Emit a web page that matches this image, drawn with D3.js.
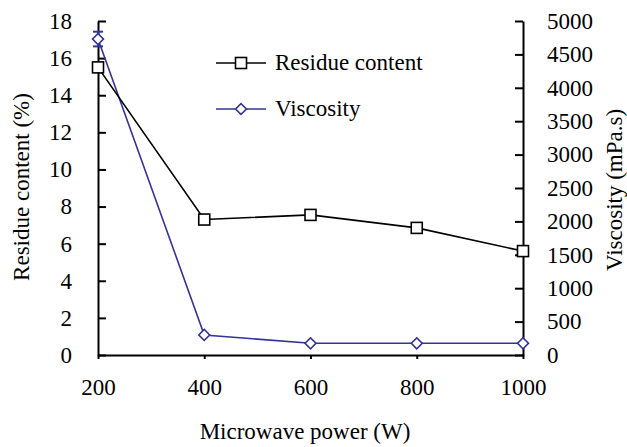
<!DOCTYPE html>
<html>
<head>
<meta charset="utf-8">
<script src="https://cdn.jsdelivr.net/npm/d3@7"></script>
<style>
  body { margin: 0; background: #fff; }
  svg { display: block; }
</style>
</head>
<body>
<script>
// data
const power = [200, 400, 600, 800, 1000];
const residue = [15.5, 7.3, 7.55, 6.85, 5.6];
const residueErr = [0, 0, 0.25, 0, 0];
const viscosity = [4730, 300, 175, 175, 175];
const viscosityErr = [110, 0, 0, 0, 0];
const leftTicks = [0, 2, 4, 6, 8, 10, 12, 14, 16, 18];
const rightTicks = [0, 500, 1000, 1500, 2000, 2500, 3000, 3500, 4000, 4500, 5000];
const xTicks = [200, 400, 600, 800, 1000];

const width = 627, height = 447;
const margin = {top: 21, right: 104, bottom: 92, left: 98};
const font = "'Liberation Serif', 'Times New Roman', serif";
const fs = "23px";
const blue = "#333399";

const svg = d3.select("body").append("svg")
  .attr("width", width)
  .attr("height", height)
  .style("font-family", font);

const x = d3.scaleLinear().domain([200, 1000]).range([margin.left, width - margin.right]);
const yL = d3.scaleLinear().domain([0, 18]).range([height - margin.bottom, margin.top]);
const yR = d3.scaleLinear().domain([0, 5000]).range([height - margin.bottom, margin.top]);

// axes
const gx = svg.append("g")
  .attr("transform", `translate(0,${height - margin.bottom})`)
  .call(d3.axisBottom(x).tickValues(xTicks).tickFormat(d3.format("d"))
    .tickSize(4).tickPadding(20).tickSizeOuter(0));

const gl = svg.append("g")
  .attr("transform", `translate(${margin.left},0)`)
  .call(d3.axisLeft(yL).tickValues(leftTicks).tickFormat(d3.format("d"))
    .tickSize(-8).tickPadding(26).tickSizeOuter(0));

const gr = svg.append("g")
  .attr("transform", `translate(${width - margin.right},0)`)
  .call(d3.axisRight(yR).tickValues(rightTicks).tickFormat(d3.format("d"))
    .tickSize(-8).tickPadding(24).tickSizeOuter(0));

[gx, gl, gr].forEach(g => {
  g.selectAll("path, line").attr("stroke", "#000").attr("stroke-width", 2);
  g.selectAll("text").attr("fill", "#000").style("font-size", fs).style("font-family", font);
});

// axis titles
svg.append("text")
  .attr("x", 305).attr("y", 439)
  .attr("text-anchor", "middle")
  .style("font-size", fs)
  .text("Microwave power (W)");

svg.append("text")
  .attr("transform", `translate(29,187) rotate(-90)`)
  .attr("text-anchor", "middle")
  .style("font-size", fs)
  .text("Residue content (%)");

svg.append("text")
  .attr("transform", `translate(622,190) rotate(-90)`)
  .attr("text-anchor", "middle")
  .style("font-size", fs)
  .text("Viscosity (mPa.s)");

// error bars
function errorBars(vals, errs, y, color) {
  const d = power.map((p, i) => ({p, v: vals[i], e: errs[i]})).filter(d => d.e > 0);
  const g = svg.append("g").attr("stroke", color).attr("stroke-width", 2);
  g.selectAll(".ev").data(d).join("line")
    .attr("x1", d => x(d.p)).attr("x2", d => x(d.p))
    .attr("y1", d => y(d.v - d.e)).attr("y2", d => y(d.v + d.e));
  g.selectAll(".eh").data(d.flatMap(d => [d.v - d.e, d.v + d.e].map(v => ({p: d.p, v})))).join("line")
    .attr("x1", d => x(d.p) - 5).attr("x2", d => x(d.p) + 5)
    .attr("y1", d => y(d.v)).attr("y2", d => y(d.v));
}
errorBars(residue, residueErr, yL, "#000");
errorBars(viscosity, viscosityErr, yR, blue);

// lines
const lineR = d3.line().x((d, i) => x(power[i])).y(d => yL(d));
const lineV = d3.line().x((d, i) => x(power[i])).y(d => yR(d));

svg.append("path").datum(viscosity)
  .attr("d", lineV).attr("fill", "none").attr("stroke", blue).attr("stroke-width", 1.6);
svg.append("path").datum(residue)
  .attr("d", lineR).attr("fill", "none").attr("stroke", "#000").attr("stroke-width", 1.6);

// markers
const sq = 11;
const diamondPath = d3.symbol().type(d3.symbolSquare).size(60);
svg.selectAll(".sq").data(residue).join("rect")
  .attr("x", (d, i) => x(power[i]) - sq / 2)
  .attr("y", d => yL(d) - sq / 2)
  .attr("width", sq).attr("height", sq)
  .attr("fill", "#fff").attr("stroke", "#000").attr("stroke-width", 1.6);

svg.selectAll(".dm").data(viscosity).join("path")
  .attr("transform", (d, i) => `translate(${x(power[i])},${yR(d)}) rotate(45)`)
  .attr("d", diamondPath)
  .attr("fill", "#fff").attr("stroke", blue).attr("stroke-width", 1.6);

// legend
const legend = [
  {label: "Residue content", color: "#000", marker: "square", y: 63},
  {label: "Viscosity", color: blue, marker: "diamond", y: 109}
];
const lg = svg.append("g");
legend.forEach(l => {
  lg.append("line").attr("x1", 216).attr("x2", 266).attr("y1", l.y).attr("y2", l.y)
    .attr("stroke", l.color).attr("stroke-width", 1.6);
  if (l.marker === "square") {
    lg.append("rect").attr("x", 241 - sq / 2).attr("y", l.y - sq / 2)
      .attr("width", sq).attr("height", sq)
      .attr("fill", "#fff").attr("stroke", l.color).attr("stroke-width", 1.6);
  } else {
    lg.append("path").attr("transform", `translate(241,${l.y}) rotate(45)`)
      .attr("d", diamondPath)
      .attr("fill", "#fff").attr("stroke", l.color).attr("stroke-width", 1.6);
  }
  lg.append("text").attr("x", 275).attr("y", l.y + 7)
    .style("font-size", fs).text(l.label);
});
</script>
</body>
</html>
